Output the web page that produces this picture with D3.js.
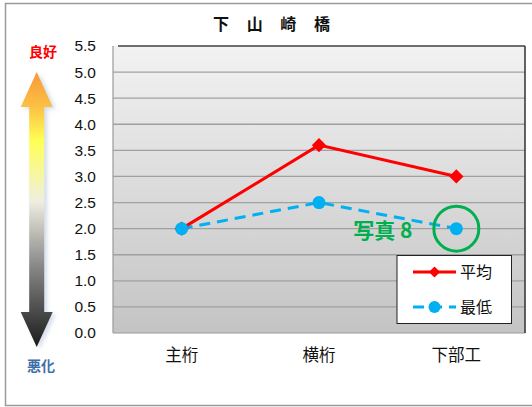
<!DOCTYPE html>
<html>
<head>
<meta charset="utf-8">
<script src="https://cdn.jsdelivr.net/npm/d3@7"></script>
<style>
  html, body { margin: 0; padding: 0; background: #fff; }
  svg { display: block; }
</style>
</head>
<body>
<svg id="chart" width="532" height="407"></svg>
<script>
// Bridge inspection scores: average and minimum per member group
const categories = ["主桁", "横桁", "下部工"];
const averageValues = [2.0, 3.6, 3.0];
const minimumValues = [2.0, 2.5, 2.0];
const yTicks = [0, 0.5, 1, 1.5, 2, 2.5, 3, 3.5, 4, 4.5, 5, 5.5];
const seriesNames = ["平均", "最低"];
const chartTitle = "下 山 崎 橋";
const photoLabel = "写真 8";
const photoIndex = 2; // member group highlighted by the photo marker

const font = "'Liberation Sans', 'Noto Sans CJK JP', sans-serif";
const cjk = "'Noto Sans CJK JP', sans-serif";

const svg = d3.select("#chart");
const defs = svg.append("defs");

const plot = { left: 113, right: 525, top: 46, bottom: 333 };

const x = d3.scaleBand().domain(categories).range([plot.left, plot.right]);
const y = d3.scaleLinear().domain([0, 5.5]).range([plot.bottom, plot.top]);

// outer frame
svg.append("rect").attr("x", 5.5).attr("y", 3.5).attr("width", 540).attr("height", 402)
  .attr("fill", "#fff").attr("stroke", "#9a9a9a").attr("stroke-width", 1.5);

// plot area background gradient
const bg = defs.append("linearGradient").attr("id", "plotBg")
  .attr("x1", 0).attr("y1", 0).attr("x2", 0).attr("y2", 1);
bg.append("stop").attr("offset", "0%").attr("stop-color", "#f2f2f2");
bg.append("stop").attr("offset", "100%").attr("stop-color", "#c4c4c4");

svg.append("rect")
  .attr("x", plot.left).attr("y", plot.top)
  .attr("width", plot.right - plot.left).attr("height", plot.bottom - plot.top)
  .attr("fill", "url(#plotBg)");

// gridlines
svg.append("g").selectAll("line").data(yTicks.filter(d => d > 0 && d < 5.5)).join("line")
  .attr("x1", plot.left).attr("x2", plot.right)
  .attr("y1", d => y(d)).attr("y2", d => y(d))
  .attr("stroke", "#a0a0a0").attr("stroke-width", 1.3);

// plot borders: light left/bottom, dark top/right
svg.append("line").attr("x1", plot.left).attr("x2", plot.left).attr("y1", plot.top).attr("y2", plot.bottom)
  .attr("stroke", "#9a9a9a").attr("stroke-width", 1.2);
svg.append("line").attr("x1", plot.left).attr("x2", plot.right).attr("y1", plot.bottom).attr("y2", plot.bottom)
  .attr("stroke", "#9a9a9a").attr("stroke-width", 1.2);
svg.append("line").attr("x1", plot.left + 5).attr("x2", plot.right).attr("y1", plot.top).attr("y2", plot.top)
  .attr("stroke", "#404040").attr("stroke-width", 1.5);
svg.append("line").attr("x1", plot.right).attr("x2", plot.right).attr("y1", plot.top).attr("y2", plot.bottom)
  .attr("stroke", "#303030").attr("stroke-width", 1.5);

// y axis
const yAxis = svg.append("g").attr("transform", `translate(${plot.left},0)`)
  .call(d3.axisLeft(y).tickValues(yTicks).tickFormat(d3.format(".1f")).tickSize(0).tickPadding(17));
yAxis.select(".domain").remove();
yAxis.selectAll("text").attr("font-family", font).attr("font-size", 15.5).attr("fill", "#111");

// x axis
const xAxis = svg.append("g").attr("transform", `translate(0,${plot.bottom})`)
  .call(d3.axisBottom(x).tickSize(0).tickPadding(16));
xAxis.select(".domain").remove();
xAxis.selectAll("text").attr("font-family", cjk).attr("font-size", 16.5).attr("fill", "#111");

// title (letter-spaced; x offset balances the trailing spacing)
svg.append("text").attr("x", 275).attr("y", 30).attr("text-anchor", "middle")
  .attr("font-family", cjk).attr("font-weight", "bold").attr("font-size", 16)
  .attr("letter-spacing", 7).attr("xml:space", "preserve")
  .style("white-space", "pre").attr("fill", "#111").text(chartTitle);

const cx = d => x(d) + x.bandwidth() / 2;

const avgData = categories.map((c, i) => ({ c, v: averageValues[i] }));
const minData = categories.map((c, i) => ({ c, v: minimumValues[i] }));
const line = d3.line().x(d => cx(d.c)).y(d => y(d.v));

// minimum series (blue, dashed, circles)
svg.append("path").datum(minData).attr("d", line)
  .attr("fill", "none").attr("stroke", "#00b0f0").attr("stroke-width", 3)
  .attr("stroke-dasharray", "11,7");
// average series (red, diamonds)
svg.append("path").datum(avgData).attr("d", line)
  .attr("fill", "none").attr("stroke", "#ff0000").attr("stroke-width", 3);

const diamond = d3.symbol().type(d3.symbolDiamond2).size(130);
svg.append("g").selectAll("path").data(avgData).join("path")
  .attr("d", diamond)
  .attr("transform", d => `translate(${cx(d.c)},${y(d.v)})`)
  .attr("fill", "#ff0000");

svg.append("g").selectAll("circle").data(minData).join("circle")
  .attr("cx", d => cx(d.c)).attr("cy", d => y(d.v)).attr("r", 6.5)
  .attr("fill", "#00b0f0");

// photo reference marker
const pc = minData[photoIndex];
svg.append("circle").attr("cx", cx(pc.c)).attr("cy", y(pc.v)).attr("r", 22.5)
  .attr("fill", "none").attr("stroke", "#00b050").attr("stroke-width", 3);
svg.append("text").attr("x", cx(pc.c) - 44).attr("y", y(pc.v) + 9).attr("text-anchor", "end")
  .attr("font-family", cjk).attr("font-weight", "bold").attr("font-size", 21)
  .attr("fill", "#00b050").text(photoLabel);

// legend
const lg = svg.append("g");
lg.append("rect").attr("x", 397).attr("y", 255.5).attr("width", 114.5).attr("height", 68)
  .attr("fill", "#fff").attr("stroke", "#222").attr("stroke-width", 1);
const legendRows = [
  { name: seriesNames[0], color: "#ff0000", dash: null, marker: "diamond", yy: 272 },
  { name: seriesNames[1], color: "#00b0f0", dash: "11,7", marker: "circle", yy: 307 }
];
legendRows.forEach(r => {
  lg.append("line").attr("x1", 413).attr("x2", 456).attr("y1", r.yy).attr("y2", r.yy)
    .attr("stroke", r.color).attr("stroke-width", 3).attr("stroke-dasharray", r.dash);
  if (r.marker === "diamond") {
    lg.append("path").attr("d", d3.symbol().type(d3.symbolDiamond2).size(80))
      .attr("transform", `translate(434.5,${r.yy})`).attr("fill", r.color);
  } else {
    lg.append("circle").attr("cx", 434.5).attr("cy", r.yy).attr("r", 6).attr("fill", r.color);
  }
  lg.append("text").attr("x", 460).attr("y", r.yy + 6).attr("font-family", cjk)
    .attr("font-size", 16).attr("fill", "#111").text(r.name);
});

// good/bad arrow on the left
const ag = defs.append("linearGradient").attr("id", "arrowGrad")
  .attr("x1", 0).attr("y1", 0).attr("x2", 0).attr("y2", 1);
[["0%", "#f7983a"], ["13%", "#fcc244"], ["25%", "#ffff55"], ["47%", "#efeee0"],
 ["70%", "#8a8a8a"], ["100%", "#1a1a1a"]].forEach(([o, c]) =>
  ag.append("stop").attr("offset", o).attr("stop-color", c));

const ax = 36.7, aTop = 72, aBot = 347, headH = 35, headW = 16, shaftW = 7.5;
const arrowPath = [
  [ax, aTop], [ax + headW, aTop + headH], [ax + shaftW, aTop + headH],
  [ax + shaftW, aBot - headH], [ax + headW, aBot - headH], [ax, aBot],
  [ax - headW, aBot - headH], [ax - shaftW, aBot - headH], [ax - shaftW, aTop + headH],
  [ax - headW, aTop + headH]
];
const shadow = defs.append("filter").attr("id", "arrowShadow")
  .attr("x", "-50%").attr("y", "-10%").attr("width", "200%").attr("height", "120%");
shadow.append("feGaussianBlur").attr("stdDeviation", 2);
svg.append("path").attr("d", d3.line()(arrowPath) + "Z")
  .attr("transform", "translate(3,2)").attr("fill", "#b8c8dc").attr("opacity", 0.6)
  .attr("filter", "url(#arrowShadow)");
svg.append("path").attr("d", d3.line()(arrowPath) + "Z")
  .attr("fill", "url(#arrowGrad)");

svg.append("text").attr("x", 43).attr("y", 57).attr("text-anchor", "middle")
  .attr("font-family", cjk).attr("font-weight", "bold").attr("font-size", 14)
  .attr("fill", "#ff0000").text("良好");
svg.append("text").attr("x", 41).attr("y", 371).attr("text-anchor", "middle")
  .attr("font-family", cjk).attr("font-weight", "bold").attr("font-size", 14)
  .attr("fill", "#3e6fa8").text("悪化");
</script>
</body>
</html>
